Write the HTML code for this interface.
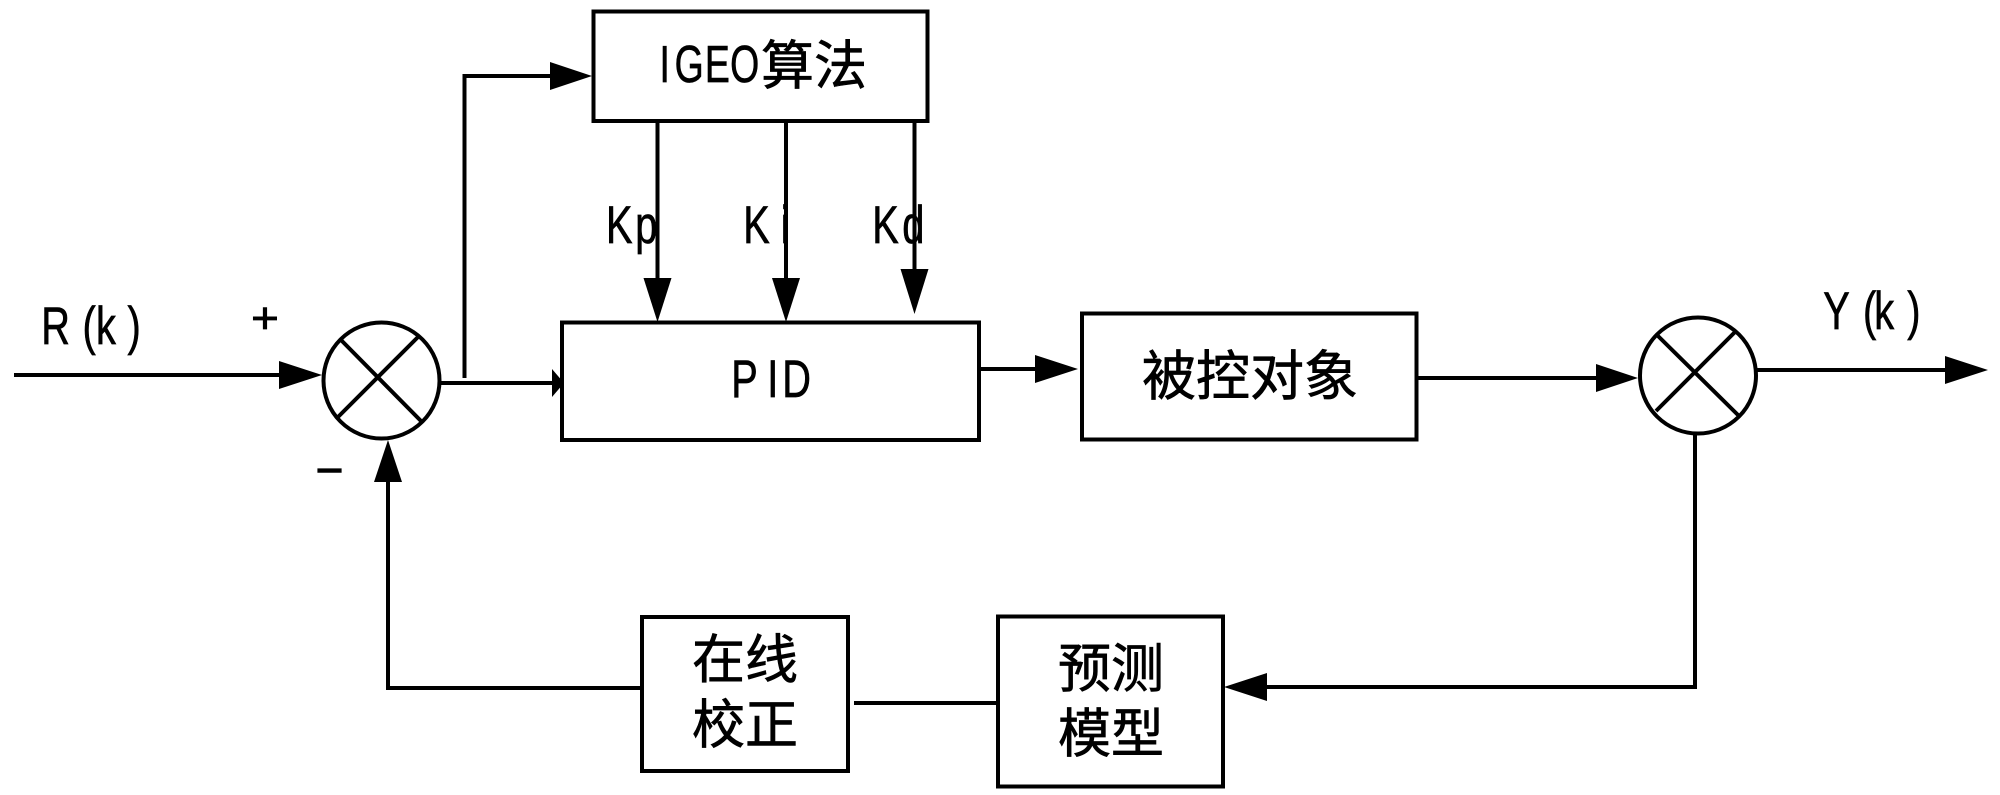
<!DOCTYPE html>
<html>
<head>
<meta charset="utf-8">
<style>
html,body{margin:0;padding:0;background:#fff;width:2000px;height:795px;overflow:hidden}
svg{display:block}
text{font-family:"Liberation Sans","Noto Sans CJK SC",sans-serif;fill:#000;stroke:#000;stroke-width:.7}
.c{font-size:54px}
.l{font-size:53px}
</style>
</head>
<body>
<svg width="2000" height="795" viewBox="0 0 2000 795" xmlns="http://www.w3.org/2000/svg">
<rect width="2000" height="795" fill="#fff"/>
<g fill="none" stroke="#000" stroke-width="4">
<rect x="593.500" y="11.500" width="334" height="109.500"/>
<rect x="562" y="322.500" width="417" height="117.500"/>
<rect x="1082" y="313.500" width="334.500" height="126"/>
<rect x="642" y="617" width="206" height="154"/>
<rect x="998" y="616.500" width="225" height="170"/>
<circle cx="381.500" cy="380.500" r="58"/>
<circle cx="1698" cy="375.500" r="58"/>
<path d="M341 340L421 421M418 337L338 417"/>
<path d="M1658 336L1738 415M1735 332L1656 411"/>
<path d="M14 375H285"/>
<path d="M440 383H556"/>
<path d="M464.500 378V76H556"/>
<path d="M657.500 121V285M786 121V285M914.500 121V276"/>
<path d="M979 369H1040"/>
<path d="M1416 378H1600"/>
<path d="M1756 370H1950"/>
<path d="M1695 434V687H1262"/>
<path d="M642 688H388V478"/>
<path d="M854 703H998"/>
</g>
<g fill="#000">
<path d="M592 76L550 62V90Z"/>
<path d="M322 375L279 361V389Z"/>
<path d="M564 383L552 369V397L564 383Z"/>
<path d="M657.500 322L643.500 278H671.500Z"/>
<path d="M786 322L772 278H800Z"/>
<path d="M914.500 314L900.500 269H928.500Z"/>
<path d="M1078 369L1035 355V383Z"/>
<path d="M1638 378L1596 364V392Z"/>
<path d="M1988 370L1945 356V384Z"/>
<path d="M1224 687L1267 673V701Z"/>
<path d="M388 440L374 482H402Z"/>
</g>
<g transform="scale(.75,1)">
<text class="l" x="55 110 128 170" y="344">R(k)</text>
<text class="l" x="2431 2484 2499 2543" y="329">Y(k)</text>
<text class="l" x="808 847" y="243">Kp</text>
<text class="l" x="991 1041" y="243">Ki</text>
<text class="l" x="1163 1203" y="243">Kd</text>
<text class="l" x="975 1023 1043" y="397">PID</text>
</g>
<g transform="scale(.72,1)">
<text x="916 937 979 1014" y="82" style="font-size:52px">IGEO</text>
</g>
<text x="251" y="333" textLength="28" lengthAdjust="spacingAndGlyphs" style="font-size:44px">+</text>
<text x="316" y="484" textLength="27" lengthAdjust="spacingAndGlyphs" style="font-size:40px;stroke-width:1.5">−</text>
<text class="c" x="761" y="84" style="font-size:53px">算法</text>
<text class="c" x="1142" y="395">被控对象</text>
<text class="c" x="692" y="678" style="font-size:53px">在线</text>
<text class="c" x="692" y="743" style="font-size:53px">校正</text>
<text class="c" x="1058" y="687" style="font-size:53px">预测</text>
<text class="c" x="1058" y="752" style="font-size:53px">模型</text>
</svg>
</body>
</html>
